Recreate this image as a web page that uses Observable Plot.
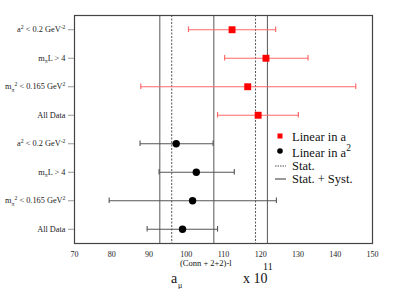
<!DOCTYPE html>
<html><head><meta charset="utf-8">
<script src="https://cdn.jsdelivr.net/npm/d3@7"></script>
<script src="https://cdn.jsdelivr.net/npm/@observablehq/plot@0.6"></script>
<style>body{margin:0;background:#fff}</style>
</head><body><div id="chart"></div>
<script>
// Row labels as rich segments: [text, shift] (1 = superscript, -1 = subscript)
const rowLabels = [
  [["a",0],["2",1],[" < 0.2 GeV",0],["-2",1]],
  [["m",0],["\u03c0",-1],["L > 4",0]],
  [["m",0],["\u03c0",-1],["2",1],[" < 0.165 GeV",0],["2",1]],
  [["All Data",0]],
  [["a",0],["2",1],[" < 0.2 GeV",0],["-2",1]],
  [["m",0],["\u03c0",-1],["L > 4",0]],
  [["m",0],["\u03c0",-1],["2",1],[" < 0.165 GeV",0],["2",1]],
  [["All Data",0]]
];
const rows = [1, 2, 3, 4, 5, 6, 7, 8];
const rowsA = [1, 2, 3, 4];
const rowsA2 = [5, 6, 7, 8];

// Linear in a (red squares)
const linA   = [112.3, 121.4, 116.5, 119.3];
const linALo = [100.6, 110.3,  87.8, 108.4];
const linAHi = [124.0, 132.7, 145.5, 130.1];

// Linear in a^2 (black circles)
const linA2   = [97.3, 102.7, 101.7,  99.0];
const linA2Lo = [87.6,  92.7,  79.3,  89.5];
const linA2Hi = [107.2, 112.9, 124.2, 108.4];

// Reference lines
const solidLines  = [92.9, 107.4, 121.8];
const dashedLines = [96.1, 118.6];

const xTicks = [70, 80, 90, 100, 110, 120, 130, 140, 150];

const A = rowsA.map((r, i) => ({row: r, v: linA[i], lo: linALo[i], hi: linAHi[i]}));
const B = rowsA2.map((r, i) => ({row: r, v: linA2[i], lo: linA2Lo[i], hi: linA2Hi[i]}));
const capH = 0.1;
const caps = d => d.flatMap(e => [{x: e.lo, y1: e.row - capH, y2: e.row + capH}, {x: e.hi, y1: e.row - capH, y2: e.row + capH}]);

const redBar = "#ff6a6a", blackBar = "#555";
const SERIF = "'Liberation Serif', 'Times New Roman', 'DejaVu Serif', serif";

const svg = Plot.plot({
  width: 410, height: 289,
  marginLeft: 74, marginRight: 38, marginTop: 15, marginBottom: 46,
  style: {fontFamily: SERIF, fontSize: "8px", background: "#fff", color: "#222"},
  x: {domain: [70, 150]},
  y: {domain: [8.5, 0.5]},
  marks: [
    Plot.ruleX(solidLines, {stroke: "#666", strokeWidth: 1.1}),
    Plot.ruleX(dashedLines, {stroke: "#555", strokeWidth: 1, strokeDasharray: "2,1.5"}),
    Plot.link(A, {x1: "lo", x2: "hi", y1: "row", y2: "row", stroke: redBar, strokeWidth: 1.2}),
    Plot.ruleX(caps(A), {x: "x", y1: "y1", y2: "y2", stroke: redBar, strokeWidth: 1.2}),
    Plot.link(B, {x1: "lo", x2: "hi", y1: "row", y2: "row", stroke: blackBar, strokeWidth: 1.1}),
    Plot.ruleX(caps(B), {x: "x", y1: "y1", y2: "y2", stroke: blackBar, strokeWidth: 1.1}),
    Plot.dot(A, {x: "v", y: "row", symbol: "square", r: 3.9, fill: "#f00"}),
    Plot.dot(B, {x: "v", y: "row", symbol: "circle", r: 3.7, fill: "#000"}),
    Plot.frame({stroke: "#444", strokeWidth: 1.2}),
    Plot.axisX({ticks: xTicks, tickSize: 0, tickPadding: 8, label: null, fontSize: 8}),
    Plot.axisY({ticks: rows, tickSize: 6, tickPadding: 3, label: null, fontSize: 8, stroke: "#999",
      tickFormat: r => rowLabels[r - 1].map(s => s[0]).join("")})
  ]
});

const s = d3.select(svg);
s.style("font-family", SERIF);
// Rich tick labels
s.selectAll('g[aria-label="y-axis tick label"] text').each(function(d, i) {
  const t = d3.select(this);
  const segs = rowLabels[i];
  t.text(null);
  let cur = 0;
  segs.forEach(([txt, sh]) => {
    const target = sh === 1 ? -3.5 : sh === -1 ? 2.5 : 0;
    t.append("tspan").attr("dy", target - cur).attr("font-size", sh ? 5.8 : 8.3).text(txt);
    cur = target;
  });
});

// X-axis title
const T = s.append("g").style("font-family", SERIF).attr("fill", "#111").attr("text-anchor", "start");
T.append("text").attr("x", 171).attr("y", 283).attr("font-size", 14).text("a");
T.append("text").attr("x", 178).attr("y", 287.5).attr("font-size", 8).text("\u03bc");
T.append("text").attr("x", 180).attr("y", 266).attr("font-size", 8.5).text("(Conn + 2+2)-l");
T.append("text").attr("x", 243).attr("y", 283).attr("font-size", 14).text("x 10");
T.append("text").attr("x", 263).attr("y", 270).attr("font-size", 10).text("11");

// Legend
const L = s.append("g").style("font-family", SERIF).attr("font-size", 12.5).attr("fill", "#111").attr("text-anchor", "start");
L.append("rect").attr("x", 277.5).attr("y", 133.5).attr("width", 5).attr("height", 5).attr("fill", "#f00");
L.append("text").attr("x", 292).attr("y", 140.5).text("Linear in a");
L.append("circle").attr("cx", 280).attr("cy", 151).attr("r", 2.8).attr("fill", "#000");
const t2 = L.append("text").attr("x", 292).attr("y", 157);
t2.append("tspan").text("Linear in a");
t2.append("tspan").attr("dy", -6).attr("font-size", 9.5).text("2");
L.append("line").attr("x1", 275).attr("x2", 286).attr("y1", 166).attr("y2", 166).attr("stroke", "#555").attr("stroke-dasharray", "1.5,1");
L.append("text").attr("x", 292).attr("y", 170).text("Stat.");
L.append("line").attr("x1", 275).attr("x2", 286).attr("y1", 179).attr("y2", 179).attr("stroke", "#333");
L.append("text").attr("x", 292).attr("y", 183).text("Stat. + Syst.");

document.getElementById("chart").append(svg);
</script>
</body></html>
